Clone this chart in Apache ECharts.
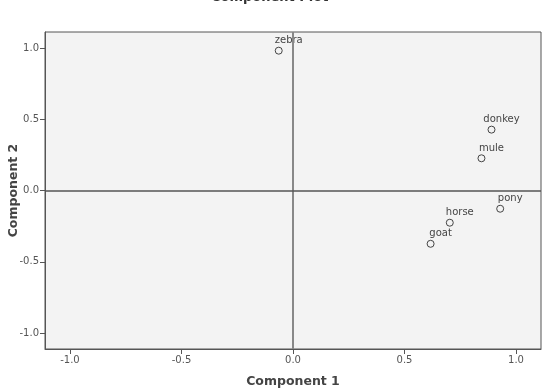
<!DOCTYPE html>
<html>
<head>
<meta charset="utf-8">
<script src="https://cdn.jsdelivr.net/npm/echarts@6/dist/echarts.min.js"></script>
<style>html,body{margin:0;padding:0;background:#fff}#c{width:545px;height:390px}</style>
</head>
<body>
<div id="c"></div>
<script>
const names = ["zebra", "donkey", "mule", "pony", "horse", "goat"];
const comp1 = [-0.064, 0.890, 0.845, 0.929, 0.703, 0.617];
const comp2 = [0.981, 0.427, 0.226, -0.128, -0.226, -0.374];
const xTicks = [-1.0, -0.5, 0.0, 0.5, 1.0];
const yTicks = [-1.0, -0.5, 0.0, 0.5, 1.0];

const FONT = "DejaVu Sans";
const chart = echarts.init(document.getElementById('c'), null, {renderer: 'canvas'});
const pts = names.map((n, i) => ({name: n, value: [comp1[i], comp2[i]]}));

chart.setOption({
  animation: false,
  backgroundColor: '#ffffff',
  title: {
    text: 'Component Plot',
    left: 206, top: -14,
    textStyle: {fontFamily: FONT, fontSize: 13, fontWeight: 'bold', color: '#333'}
  },
  grid: {
    left: 45, right: 4, top: 32, bottom: 41,
    containLabel: false, outerBoundsMode: 'none',
    show: true, backgroundColor: '#f3f3f3', borderColor: '#555', borderWidth: 1
  },
  xAxis: {
    type: 'value', min: -1.112, max: 1.112,
    name: 'Component 1', nameLocation: 'middle', nameGap: 26, nameMoveOverlap: false,
    nameTextStyle: {fontFamily: FONT, fontSize: 12.5, fontWeight: 'bold', color: '#444'},
    axisLine: {show: true, onZero: false, lineStyle: {color: '#555', width: 1}},
    axisTick: {show: true, length: 5, customValues: xTicks, lineStyle: {color: '#555'}},
    axisLabel: {customValues: xTicks, fontFamily: FONT, fontSize: 10, color: '#555', margin: 6,
      formatter: v => v.toFixed(1)},
    splitLine: {show: false}
  },
  yAxis: {
    type: 'value', min: -1.112, max: 1.112,
    name: 'Component 2', nameLocation: 'middle', nameGap: 25, nameRotate: 90, nameMoveOverlap: false,
    nameTextStyle: {fontFamily: FONT, fontSize: 12.5, fontWeight: 'bold', color: '#444'},
    axisLine: {show: true, onZero: false, lineStyle: {color: '#555', width: 1}},
    axisTick: {show: true, length: 5, customValues: yTicks, lineStyle: {color: '#555'}},
    axisLabel: {customValues: yTicks, fontFamily: FONT, fontSize: 10, color: '#555', margin: 6,
      formatter: v => v.toFixed(1)},
    splitLine: {show: false}
  },
  series: [{
    type: 'scatter',
    data: pts,
    symbol: 'circle',
    symbolSize: 7,
    itemStyle: {color: '#f3f3f3', borderColor: '#444', borderWidth: 1, opacity: 1},
    label: {
      show: true, position: 'top', distance: 1, offset: [10, 0],
      formatter: p => p.name,
      fontFamily: FONT, fontSize: 10, color: '#444'
    },
    markLine: {
      silent: true, symbol: 'none', label: {show: false},
      data: [
        {xAxis: 0, lineStyle: {color: '#888', width: 2, type: 'solid'}},
        {yAxis: 0, lineStyle: {color: '#555', width: 1.5, type: 'solid'}}
      ]
    },
    z: 3
  }]
});
</script>
</body>
</html>
